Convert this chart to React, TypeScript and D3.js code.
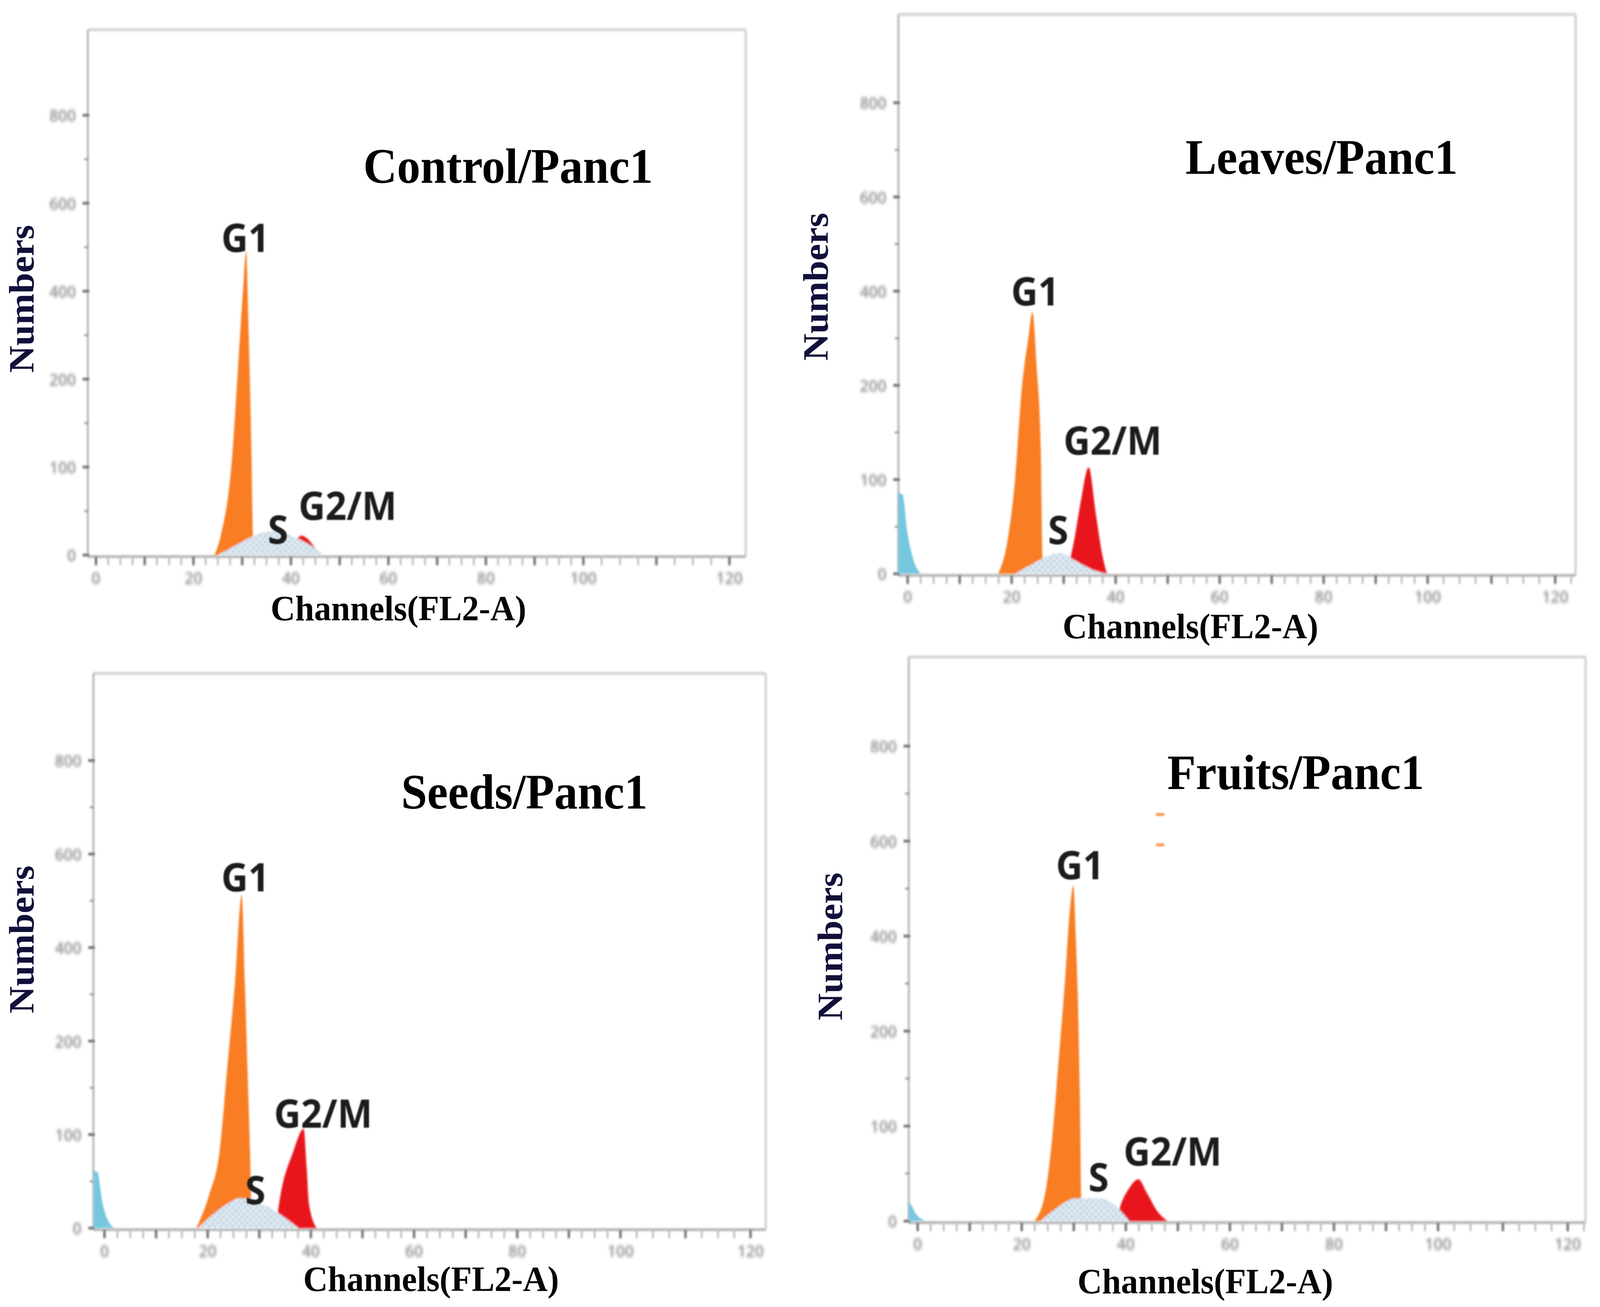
import React from 'react';
import * as d3 from 'd3';

type Pt = [number, number];

// ---------- axis / text content ----------
const xTicks = [0, 20, 40, 60, 80, 100, 120];
const yTicks = [0, 100, 200, 400, 600, 800];
const yMinorTicks = [50, 150, 300, 500, 700];
const xMinorStep = 2.5;
const titles = ['Control/Panc1', 'Leaves/Panc1', 'Seeds/Panc1', 'Fruits/Panc1'];
const phaseNames = ['G1', 'S', 'G2/M'];
const xAxisTitle = 'Channels(FL2-A)';
const yAxisTitle = 'Numbers';

// ---------- data: [channel, count] ----------
const controlDebris: Pt[] = [];
const controlG1: Pt[] = [[24.3, 0], [25.6, 22], [28.0, 116], [29.1, 219], [30.2, 407], [30.8, 491], [31.3, 313], [31.9, 116], [32.2, 22], [32.6, 0]];
const controlS: Pt[] = [[24.9, 0], [27, 6], [29.6, 14], [32, 21], [34.5, 26], [37.4, 27], [40, 22], [42.1, 17], [44, 11], [45.2, 7], [46.8, 0]];
const controlG2: Pt[] = [[40.2, 0], [41, 16], [42.2, 22], [43.5, 18], [44.7, 10], [46.3, 0]];
const controlMarks: Pt[] = [];

const leavesDebris: Pt[] = [[-1.8, 86], [-1.0, 84], [0, 42], [1.1, 15], [2.5, 0]];
const leavesG1: Pt[] = [[17.4, 0], [19.2, 35], [20.5, 91], [22.0, 200], [23.2, 300], [24.0, 356], [24.8, 240], [25.6, 132], [25.9, 21], [26.2, 0]];
const leavesS: Pt[] = [[20.6, 0], [23.5, 9], [25.5, 15], [27.4, 20], [29.4, 22], [31.9, 15], [35.3, 5], [38.2, 0]];
const leavesG2: Pt[] = [[30.6, 0], [32.0, 35], [33.3, 77], [34.8, 113], [36.2, 63], [37.4, 21], [38.3, 0]];
const leavesMarks: Pt[] = [];

const seedsDebris: Pt[] = [[-2.1, 61], [-1.4, 60], [-0.4, 27], [1.0, 5], [2.0, 0]];
const seedsG1: Pt[] = [[17.8, 0], [20.3, 36], [22.3, 82], [23.8, 172], [25.3, 326], [26.6, 512], [27.2, 326], [27.7, 172], [28.2, 82], [28.4, 36], [28.7, 0]];
const seedsS: Pt[] = [[18.1, 0], [21.3, 16], [23.8, 26], [26.2, 32], [28.5, 31], [30.2, 27], [33.7, 16], [37.6, 0]];
const seedsG2: Pt[] = [[33.2, 0], [33.7, 21], [36.6, 82], [38.6, 106], [39.2, 64], [39.6, 27], [41.1, 0]];
const seedsMarks: Pt[] = [];

const fruitsDebris: Pt[] = [[-1.7, 19], [-1.4, 18], [-0.4, 8], [1.5, 0]];
const fruitsG1: Pt[] = [[22.4, 0], [24.5, 29], [26.0, 96], [27.0, 163], [28.3, 305], [29.2, 448], [29.9, 506], [30.4, 394], [30.9, 215], [31.2, 118], [31.4, 29], [31.6, 0]];
const fruitsS: Pt[] = [[23.6, 0], [26.5, 13], [30.4, 24], [35.3, 24], [38.2, 15], [40.7, 0]];
const fruitsG2: Pt[] = [[38.2, 0], [38.7, 11], [40.7, 35], [42.4, 44], [44.1, 29], [46.1, 10], [48.0, 0]];
const fruitsMarks: Pt[] = [[46.6, 656], [46.6, 592]];

// ---------- layout (pixels) ----------
interface Layout {
  axisX: number; top: number; right: number; y0: number; y800: number;
  x0: number; x100: number; x120: number;
  title: [number, number]; yTitle: [number, number]; xTitle: [number, number];
  g1: [number, number]; s: [number, number]; g2: [number, number];
}

const layouts: Layout[] = [
  { axisX: 237, top: 76, right: 2012, y0: 1421, y800: 295, x0: 259, x100: 1574, x120: 1968,
    title: [1371, 468], yTitle: [58, 765], xTitle: [1075, 1557], g1: [662, 645], s: [750, 1392], g2: [938, 1331] },
  { axisX: 2424, top: 37, right: 4251, y0: 1469, y800: 263, x0: 2449, x100: 3852, x120: 4196,
    title: [3566, 445], yTitle: [2201, 734], xTitle: [3212, 1603], g1: [2793, 782], s: [2855, 1393], g2: [3002, 1164] },
  { axisX: 252, top: 1724, right: 2066, y0: 3144, y800: 1947, x0: 282, x100: 1674, x120: 2025,
    title: [1415, 2070], yTitle: [58, 2405], xTitle: [1163, 3274], g1: [662, 2282], s: [689, 3083], g2: [872, 2887] },
  { axisX: 2452, top: 1682, right: 4278, y0: 3126, y800: 1910, x0: 2476, x100: 3880, x120: 4230,
    title: [3496, 2020], yTitle: [2240, 2423], xTitle: [3252, 3280], g1: [2914, 2251], s: [2964, 3050], g2: [3164, 2984] },
];

const panelData = [
  { debris: controlDebris, g1: controlG1, s: controlS, g2: controlG2, marks: controlMarks },
  { debris: leavesDebris, g1: leavesG1, s: leavesS, g2: leavesG2, marks: leavesMarks },
  { debris: seedsDebris, g1: seedsG1, s: seedsS, g2: seedsG2, marks: seedsMarks },
  { debris: fruitsDebris, g1: fruitsG1, s: fruitsS, g2: fruitsG2, marks: fruitsMarks },
];

const COLORS = { g1: '#f97d22', g2: '#e8141c', debris: '#74c6df', sFill: '#dde9f2', sDot: '#a3bccf' };

function Panel({ L, D, title }: { L: Layout; D: typeof panelData[number]; title: string }) {
  const x = d3.scaleLinear().domain([0, 100, 120]).range([L.x0, L.x100, L.x120]);
  const y = d3.scaleLinear()
    .domain(yTicks)
    .range(yTicks.map((_, i) => L.y0 + (L.y800 - L.y0) * i / (yTicks.length - 1)));
  const area = d3.area<Pt>().x(d => x(d[0])).y0(y(0)).y1(d => y(d[1])).curve(d3.curveMonotoneX);
  const baseY = y(0) + 4;
  const xMax = x.invert(L.right);
  const xMinor = d3.range(0, xMax, xMinorStep);

  return (
    <g>
      {/* frame */}
      <g filter="url(#blur3)">
        <line x1={L.axisX} x2={L.right} y1={L.top} y2={L.top} stroke="#d6d6d6" strokeWidth={8} />
        <line x1={L.right} x2={L.right} y1={L.top} y2={baseY} stroke="#d6d6d6" strokeWidth={7} />
        <line x1={L.axisX} x2={L.axisX} y1={L.top} y2={baseY} stroke="#bcbcbc" strokeWidth={6} />
        <line x1={L.axisX} x2={L.right} y1={baseY} y2={baseY} stroke="#b4b4b4" strokeWidth={7} />
        {xMinor.map((v, i) => (
          <line key={'xm' + i} x1={x(v)} x2={x(v)} y1={baseY} y2={baseY + 22}
            stroke={i % 4 === 0 ? '#7a7a7a' : '#bdbdbd'} strokeWidth={i % 4 === 0 ? 7 : 5} />
        ))}
        {yTicks.map(v => (
          <line key={'yt' + v} x1={L.axisX - 14} x2={L.axisX + 4} y1={y(v)} y2={y(v)} stroke="#707070" strokeWidth={7} />
        ))}
        {yMinorTicks.map(v => (
          <line key={'ym' + v} x1={L.axisX - 10} x2={L.axisX + 2} y1={y(v)} y2={y(v)} stroke="#9a9a9a" strokeWidth={5} />
        ))}
      </g>
      {/* tick labels */}
      <g filter="url(#blur4)" fontFamily="'Open Sans', sans-serif" fontSize={42} fill="#8c8c8c" fontWeight={600}>
        {yTicks.map(v => (
          <text key={'yl' + v} x={L.axisX - 32} y={y(v)} textAnchor="end" dominantBaseline="central">{v}</text>
        ))}
        {xTicks.map(v => (
          <text key={'xl' + v} x={x(v)} y={baseY + 54} textAnchor="middle" dominantBaseline="central">{v}</text>
        ))}
      </g>
      {/* populations */}
      <g filter="url(#blur2)">
        {D.debris.length > 0 && <path d={area(D.debris) || ''} fill={COLORS.debris} />}
        <path d={area(D.g2) || ''} fill={COLORS.g2} />
        <path d={area(D.g1) || ''} fill={COLORS.g1} />
        <path d={area(D.s) || ''} fill="url(#sdots)" />
        {D.marks.map((m, i) => (
          <line key={'mk' + i} x1={x(m[0] - 0.8)} x2={x(m[0] + 0.8)} y1={y(m[1])} y2={y(m[1])} stroke={COLORS.g1} strokeWidth={6} />
        ))}
      </g>
      {/* phase labels */}
      <g filter="url(#blur1)" fontFamily="'Open Sans', sans-serif" fontWeight={700} fontSize={100} fill="#1c1c1c" textAnchor="middle">
        <text x={L.g1[0]} y={L.g1[1]}>{phaseNames[0]}</text>
        <text x={L.s[0]} y={L.s[1]}>{phaseNames[1]}</text>
        <text x={L.g2[0]} y={L.g2[1]}>{phaseNames[2]}</text>
      </g>
      {/* titles */}
      <g fontFamily="'Liberation Serif', 'Times New Roman', serif" fontWeight={700}>
        <text x={L.title[0]} y={L.title[1]} fontSize={126} textAnchor="middle" fill="#000">{title}</text>
        <text x={L.xTitle[0]} y={L.xTitle[1]} fontSize={92} textAnchor="middle" dominantBaseline="central" fill="#050505">{xAxisTitle}</text>
        <text transform={`translate(${L.yTitle[0]},${L.yTitle[1]}) rotate(-90)`} fontSize={96} textAnchor="middle" dominantBaseline="central" fill="#10103a">{yAxisTitle}</text>
      </g>
    </g>
  );
}

export default function App() {
  return (
    <svg viewBox="0 0 4317 3346" preserveAspectRatio="none"
      style={{ position: 'fixed', left: 0, top: 0, width: '100vw', height: '100vh', background: '#fff', display: 'block' }}>
      <defs>
        <pattern id="sdots" patternUnits="userSpaceOnUse" width={16} height={16}>
          <rect width={16} height={16} fill={COLORS.sFill} />
          <circle cx={4} cy={4} r={2.5} fill={COLORS.sDot} />
          <circle cx={12} cy={12} r={2.5} fill={COLORS.sDot} />
        </pattern>
        <filter id="blur1" x="-10%" y="-10%" width="120%" height="120%"><feGaussianBlur stdDeviation={1.5} /></filter>
        <filter id="blur2" x="-10%" y="-10%" width="120%" height="120%"><feGaussianBlur stdDeviation={2.5} /></filter>
        <filter id="blur3" x="-5%" y="-5%" width="110%" height="110%"><feGaussianBlur stdDeviation={2.5} /></filter>
        <filter id="blur4" x="-10%" y="-10%" width="120%" height="120%"><feGaussianBlur stdDeviation={4} /></filter>
      </defs>
      <rect width={4317} height={3346} fill="#fff" />
      {layouts.map((L, i) => (
        <Panel key={i} L={L} D={panelData[i]} title={titles[i]} />
      ))}
    </svg>
  );
}
